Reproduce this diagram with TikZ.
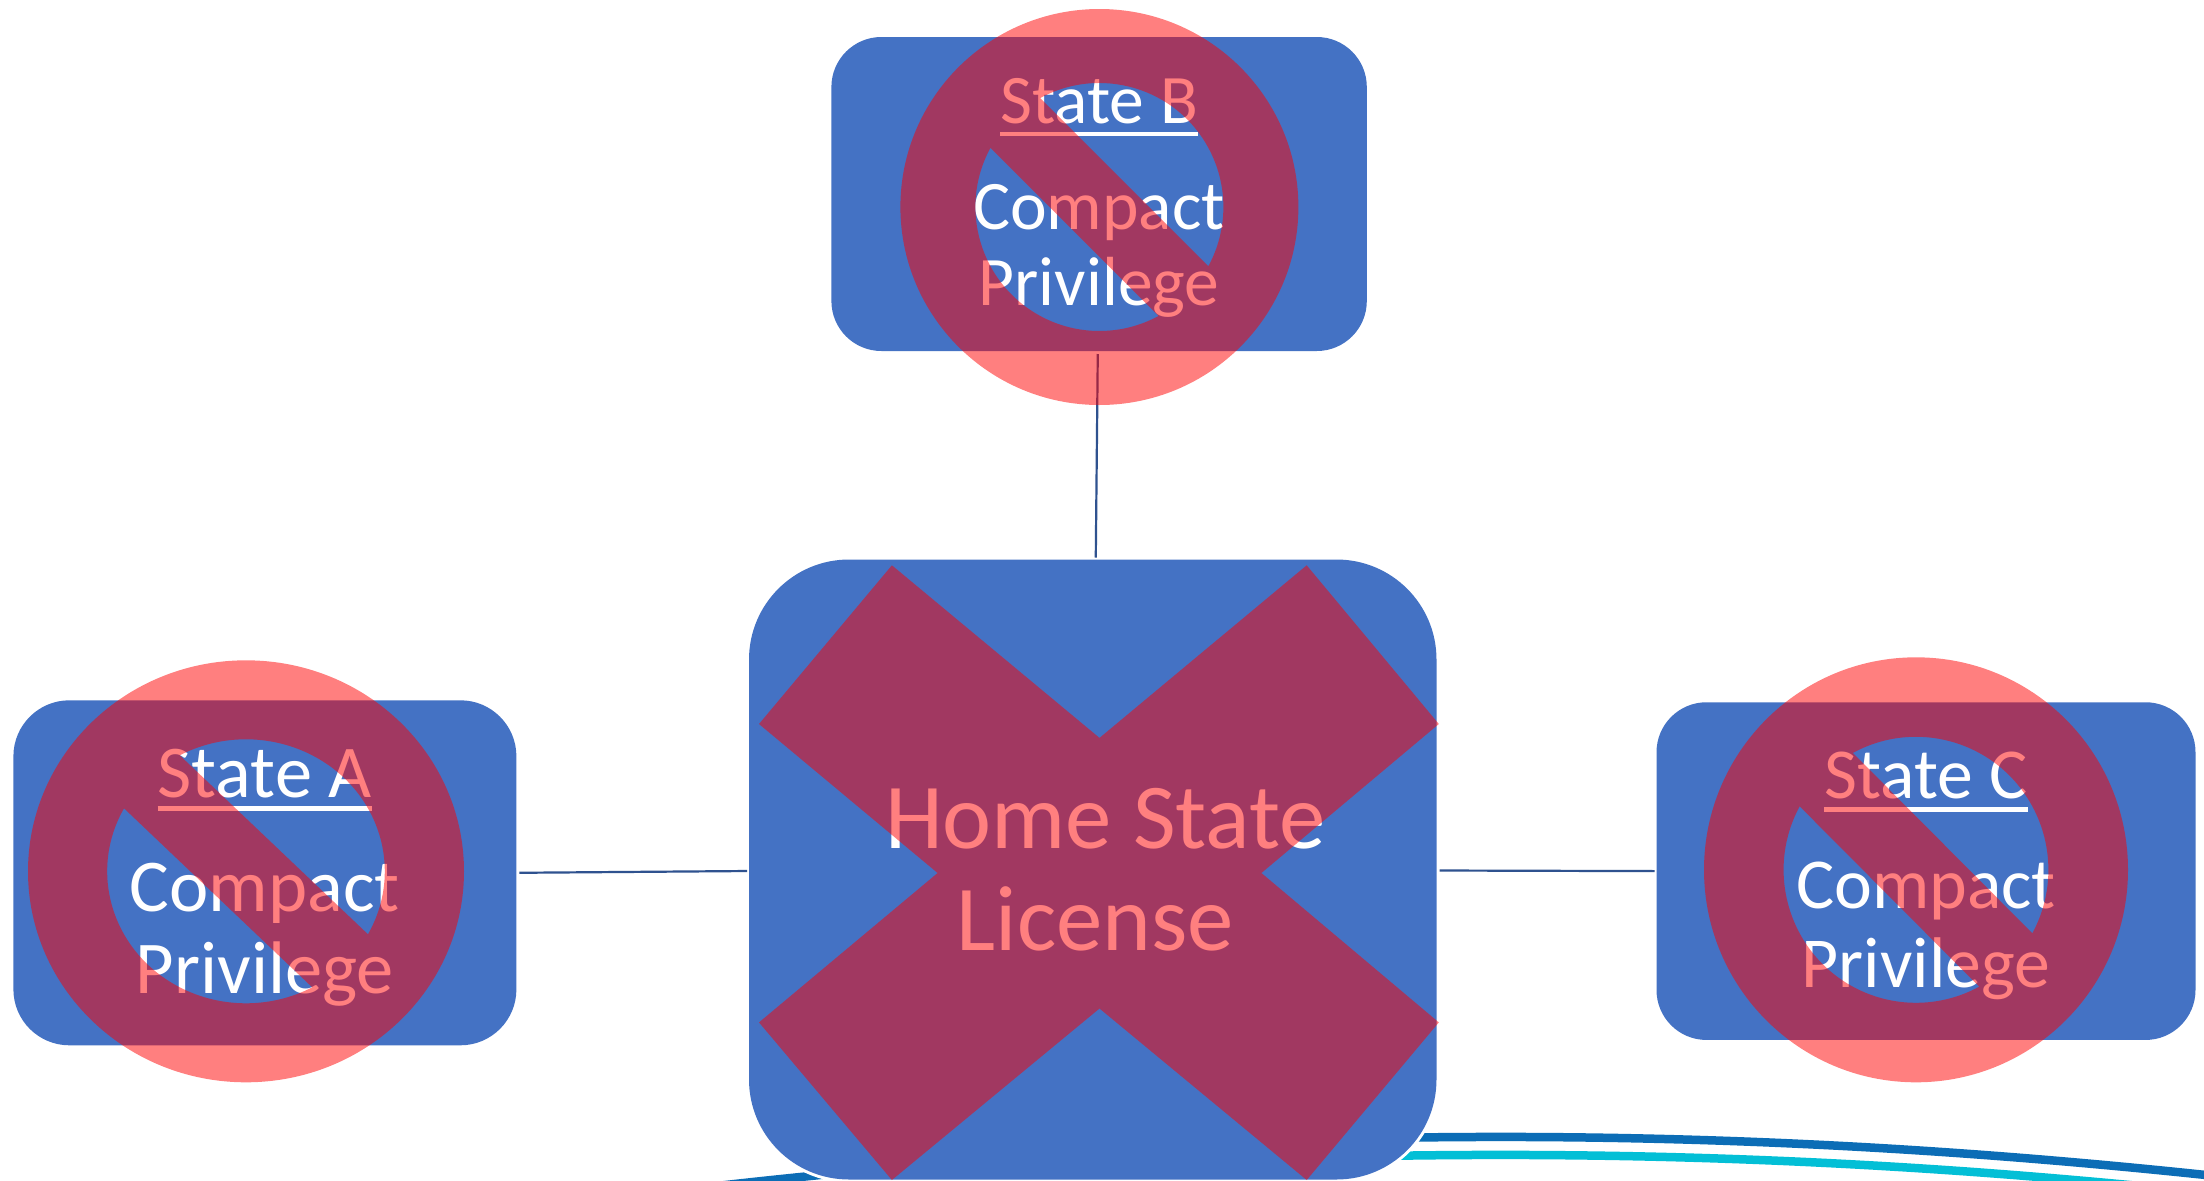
\documentclass[tikz,border=0pt]{standalone}
\usepackage{fontspec}
\setmainfont{Carlito}
\definecolor{boxblue}{HTML}{4472C4}
\definecolor{linkblue}{HTML}{2F528F}
\definecolor{arcblue}{HTML}{0C6DB6}
\definecolor{arcteal}{HTML}{03BFD6}
\newcommand\ulstate[1]{\setbox0=\hbox{#1}\leavevmode\rlap{\rule[-13pt]{\wd0}{4.7pt}}\box0}
\newcommand\nosmoke[6]{%
  \fill[ban,even odd rule]
    (#1,#2) circle[x radius=#3,y radius=#4]
    (#1,#2) ++(241.5:#5 and #6) arc[start angle=241.5,end angle=388.5,x radius=#5,y radius=#6] -- cycle
    (#1,#2) ++(208.5:#5 and #6) arc[start angle=208.5,end angle=61.5,x radius=#5,y radius=#6] -- cycle;}
\tikzset{
  statebox/.style={fill=boxblue,inner sep=0pt,outer sep=0pt,rounded corners=50pt},
  statetext/.style={text=white,align=center,inner sep=0pt,outer sep=0pt},
  link/.style={draw=linkblue,line width=2.2pt,shorten >=2pt,shorten <=3pt},
  ban/.style={fill=red,fill opacity=.5},
  arcline/.style={line width=8.5pt}
}
\begin{document}
\begin{tikzpicture}[x=1pt,y=-1pt]
\useasboundingbox (0,0) rectangle (2204,1181);
\clip (0,0) rectangle (2204,1181);
\fill[white] (0,0) rectangle (2204,1181);
% arcs behind the home box
\draw[arcline,draw=arcblue] (700,1188) .. controls (750,1182) and (800,1177) .. (860,1171);
\draw[arcline,draw=arcblue] (1400,1137.7) .. controls (1680,1133.5) and (1942,1146.7) .. (2220,1176.5);
\draw[arcline,draw=arcteal] (1385,1155.9) .. controls (1648,1151.5) and (1894,1162) .. (2150,1187);
% boxes
\node[statebox,rounded corners=100pt,minimum width=687.5pt,minimum height=620pt,
      preaction={draw=white,line width=6pt},
      text=white,align=center,font=\fontsize{92.8}{102}\selectfont] (home) at (1092.75,869.5)
      {\hspace*{25pt}Home State\\\hspace*{15pt}License\hspace*{10pt}};
\node[statebox,rounded corners=56pt,minimum width=503pt,minimum height=345pt] (stateA) at (264.9,872.8) {};
\node[statebox,minimum width=535.4pt,minimum height=314pt] (stateB) at (1099.1,194) {};
\node[statebox,minimum width=539pt,minimum height=337.7pt] (stateC) at (1926,871.1) {};
% texts
\node[statetext,font=\fontsize{74.5}{81.7}\selectfont] (textA) at ([yshift=-5pt]stateA.center)
  {\ulstate{State A}\\[32.3pt]Compact\\Privilege};
\node[statetext,font=\fontsize{69.5}{76.3}\selectfont] (textB) at ([yshift=-4pt]stateB.center)
  {\ulstate{State B}\\[29.7pt]Compact\\Privilege};
\node[statetext,font=\fontsize{71.7}{79}\selectfont] (textC) at ([yshift=-5pt]stateC.center)
  {\ulstate{State C}\\[31pt]Compact\\Privilege};
% connectors
\draw[link] (stateA.east) -- ([yshift=-1.5pt]home.west);
\draw[link] ([yshift=-1pt]home.east) -- (stateC.west);
\draw[link] ([xshift=-1.3pt]stateB.south) -- ([xshift=3pt]home.north);
% prohibition overlays
\nosmoke{246}{871.3}{218}{211}{138.8}{132}
\nosmoke{1099.4}{207}{199}{198}{124}{124}
\nosmoke{1916}{869.8}{212}{212.5}{132.4}{133}
\fill[ban] (891.9,565.3) -- (1099.5,737.9) -- (1306.7,565.3) -- (1438.8,724) -- (1261.4,873)
  -- (1438.8,1022.4) -- (1306.7,1180) -- (1099.5,1008.5) -- (891.9,1180) -- (759,1022.4)
  -- (937.6,873) -- (759,724) -- cycle;
\end{tikzpicture}
\end{document}
